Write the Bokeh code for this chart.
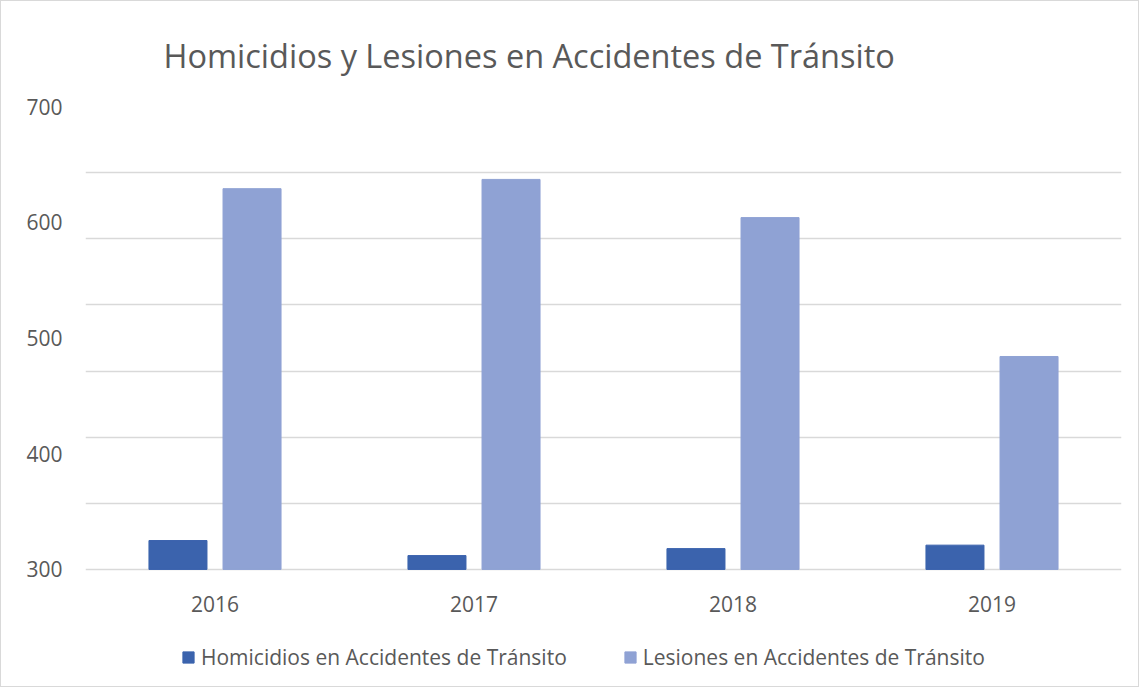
from bokeh.plotting import figure
from bokeh.models import FactorRange, Range1d, FixedTicker, Legend, LegendItem, ColumnDataSource
from bokeh.core.properties import value
from bokeh.transform import dodge
from bokeh.embed import file_html
from bokeh.resources import INLINE

years = ["2016", "2017", "2018", "2019"]
homicidios = [325, 312, 318, 321]
lesiones = [629, 637, 604, 484]
y_ticks = [300, 400, 500, 600, 700]
grid_ticks = [300 + 400 * k / 7 for k in range(8)]

BASE = 300
LABEL_Y = 269.8   # position of the category labels below the baseline
Y_LOW = 200.6     # extra room under the baseline for labels and legend

src = ColumnDataSource(dict(year=years, hom=homicidios, les=lesiones))

FONT = "Open Sans"
GRAY = "#595959"

p = figure(x_range=FactorRange(*years, range_padding=0), y_range=Range1d(Y_LOW, 700),
           frame_width=1036, frame_height=578,
           output_backend="svg", toolbar_location=None,
           min_border_left=84, min_border_right=17, min_border_top=105, min_border_bottom=2)
p.styles = {"border": "1px solid #d9d9d9"}
p.outline_line_color = None

r1 = p.vbar(x=dodge("year", -0.143, range=p.x_range), top="hom", bottom=BASE, width=0.224,
            source=src, color="#3B63AD")
r2 = p.vbar(x=dodge("year", 0.143, range=p.x_range), top="les", bottom=BASE, width=0.224,
            source=src, color="#8FA2D4")

p.text(x=years, y=[LABEL_Y] * len(years), text=years, text_font=value(FONT),
       text_font_size=value("21px"), text_color=GRAY, text_align="center",
       text_baseline="middle")

p.title.text = "Homicidios y Lesiones en Accidentes de Tránsito"
p.title.text_font = FONT
p.title.text_font_size = "32.5px"
p.title.text_font_style = "normal"
p.title.text_color = GRAY
p.title.align = "left"
p.title.offset = 78
p.title.standoff = 58

p.xgrid.grid_line_color = None
p.ygrid.ticker = FixedTicker(ticks=grid_ticks)
p.ygrid.grid_line_color = "#d9d9d9"
p.ygrid.grid_line_width = 1.5

p.xaxis.visible = False
p.yaxis.ticker = FixedTicker(ticks=y_ticks)
ax = p.yaxis[0]
ax.axis_line_color = None
ax.major_tick_line_color = None
ax.minor_tick_line_color = None
ax.major_label_text_font = FONT
ax.major_label_text_font_size = "21px"
ax.major_label_text_color = GRAY
ax.major_label_standoff = 17

legend = Legend(items=[LegendItem(label="Homicidios en Accidentes de Tránsito", renderers=[r1]),
                       LegendItem(label="Lesiones en Accidentes de Tránsito", renderers=[r2])],
                orientation="horizontal", location=(96, 13),
                label_text_font=FONT, label_text_font_size="21px", label_text_color=GRAY,
                glyph_width=14, glyph_height=14, spacing=56, label_standoff=6,
                border_line_color=None, background_fill_alpha=0, padding=4, margin=0)
p.add_layout(legend, "center")

open("out.html", "w").write(file_html(p, INLINE))
